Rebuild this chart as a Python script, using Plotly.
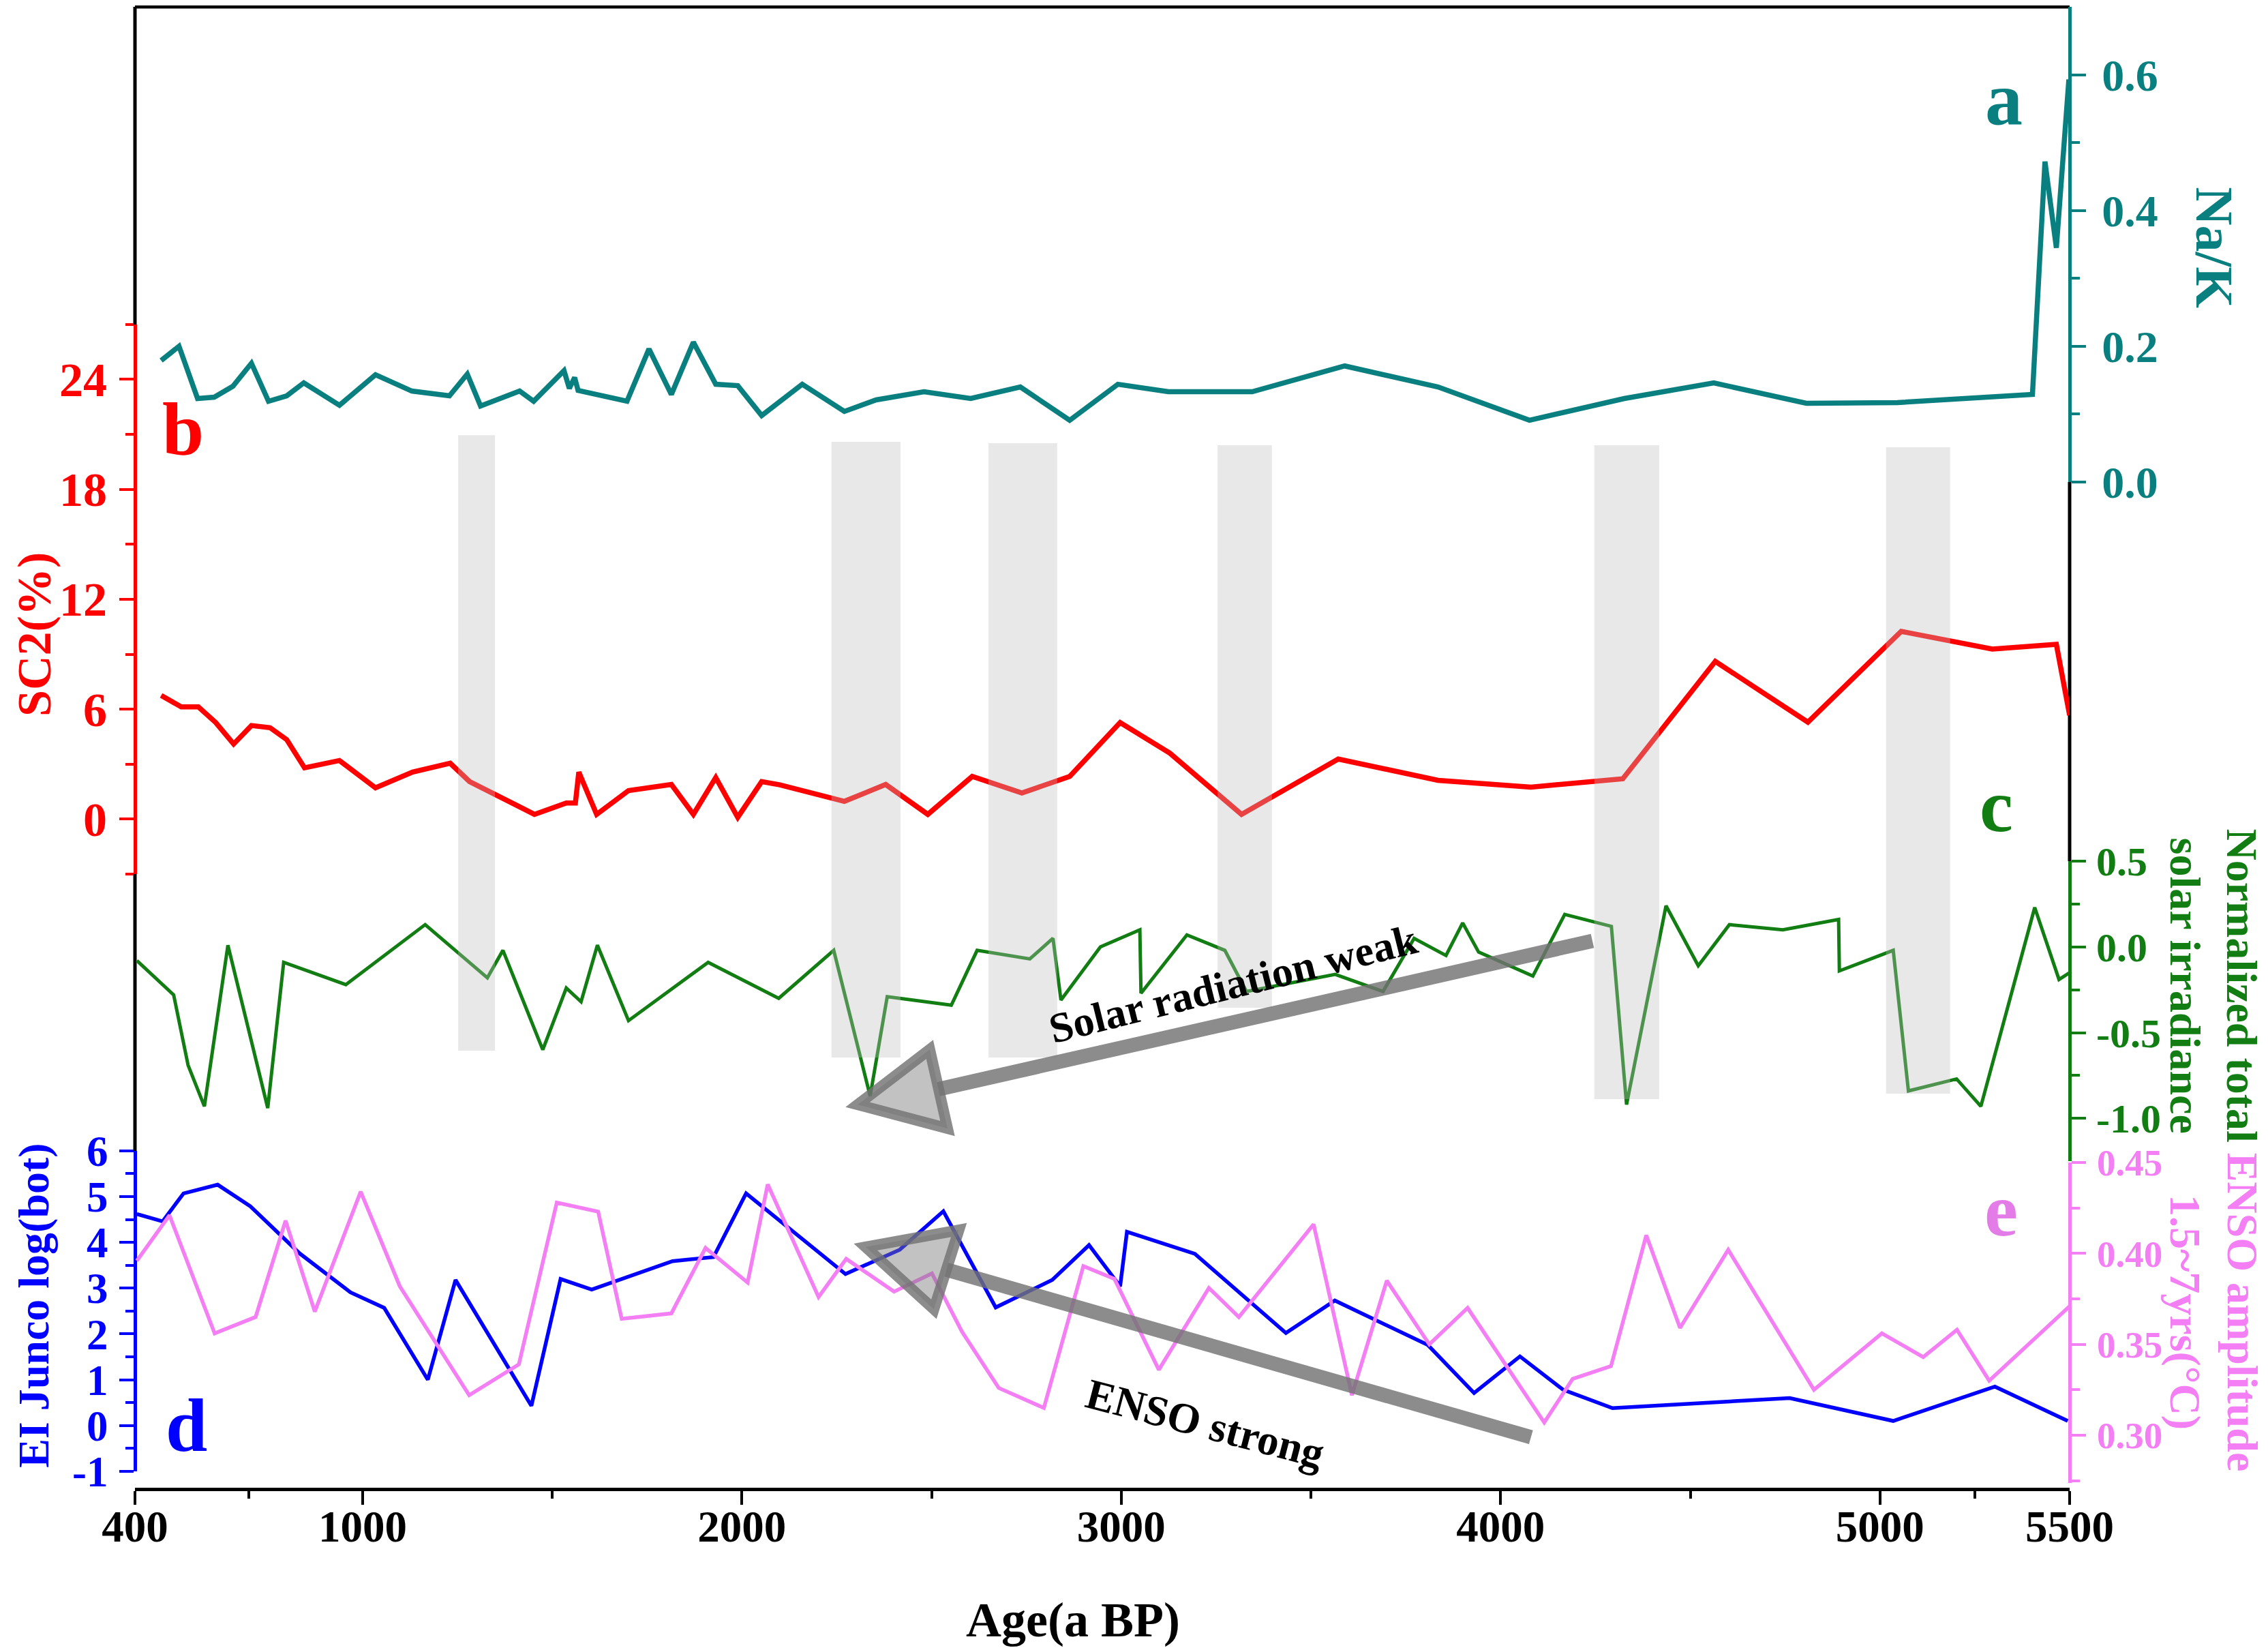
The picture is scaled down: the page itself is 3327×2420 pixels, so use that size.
import plotly.graph_objects as go

# ---- data (age in a BP) ----
# a: Na/K
nak_age = [469, 516, 565, 609, 658, 707, 752, 800, 845, 939, 1034, 1130, 1229, 1276, 1311, 1414, 1451,
           1531, 1545, 1559, 1568, 1697, 1755, 1814, 1872, 1931, 1989, 2052, 2159, 2270, 2354, 2480,
           2603, 2734, 2864, 2991, 3124, 3345, 3589, 3835, 4076, 4326, 4562, 4806, 5046, 5402, 5435,
           5465, 5498]
nak = [0.179, 0.200, 0.123, 0.125, 0.141, 0.175, 0.119, 0.127, 0.146, 0.113, 0.158, 0.134, 0.127,
       0.159, 0.112, 0.134, 0.119, 0.164, 0.138, 0.154, 0.135, 0.119, 0.196, 0.129, 0.206, 0.144,
       0.142, 0.098, 0.144, 0.104, 0.121, 0.133, 0.123, 0.140, 0.091, 0.144, 0.133, 0.133, 0.171,
       0.140, 0.091, 0.123, 0.146, 0.116, 0.117, 0.129, 0.472, 0.345, 0.593]

# b: SC2 (%)
sc2_age = [469, 522, 567, 613, 660, 707, 756, 800, 847, 939, 1034, 1132, 1231, 1282, 1453, 1537, 1561,
           1570, 1617, 1701, 1814, 1872, 1931, 1989, 2052, 2100, 2270, 2379, 2490, 2607, 2738, 2864,
           2997, 3128, 3317, 3572, 3835, 4080, 4322, 4566, 4810, 5056, 5296, 5465, 5500]
sc2 = [6.75, 6.13, 6.13, 5.27, 4.10, 5.11, 4.99, 4.34, 2.80, 3.20, 1.71, 2.57, 3.05, 2.05, 0.26, 0.88,
       0.88, 2.57, 0.26, 1.56, 1.89, 0.26, 2.27, 0.10, 2.05, 1.87, 0.97, 1.89, 0.26, 2.33, 1.43, 2.33,
       5.27, 3.60, 0.26, 3.28, 2.12, 1.75, 2.20, 8.61, 5.29, 10.25, 9.28, 9.54, 5.67]

# c: normalized total solar irradiance
tsi_age = [405, 502, 540, 583, 645, 750, 792, 956, 1165, 1329, 1370, 1475, 1537, 1576, 1619, 1701,
           1911, 2097, 2242, 2338, 2383, 2552, 2620, 2759, 2820, 2841, 2945, 3049, 3052, 3173, 3273,
           3330, 3564, 3690, 3772, 3856, 3900, 3942, 4085, 4169, 4292, 4332, 4436, 4521, 4603, 4744,
           4891, 4893, 5035, 5075, 5202, 5266, 5408, 5472, 5500]
tsi = [-0.08, -0.28, -0.69, -0.93, 0.01, -0.94, -0.09, -0.22, 0.13, -0.18, -0.02, -0.60, -0.24, -0.32,
       0.01, -0.43, -0.09, -0.30, -0.02, -0.87, -0.29, -0.34, -0.02, -0.07, 0.05, -0.31, 0.00, 0.10,
       -0.27, 0.07, -0.02, -0.26, -0.16, -0.26, 0.05, -0.05, 0.14, -0.03, -0.17, 0.19, 0.12, -0.92,
       0.24, -0.11, 0.13, 0.10, 0.16, -0.14, -0.02, -0.84, -0.77, -0.93, 0.23, -0.19, -0.15]

# d: El Junco log(bot)
junco_age = [405, 473, 528, 618, 704, 834, 968, 1057, 1172, 1245, 1445, 1522, 1604, 1817, 1925, 2011,
             2273, 2416, 2531, 2669, 2818, 2915, 2997, 3015, 3194, 3434, 3563, 3808, 3930, 4051, 4165,
             4295, 4762, 5035, 5303, 5495]
junco = [4.62, 4.46, 5.07, 5.26, 4.79, 3.76, 2.91, 2.57, 1.00, 3.18, 0.43, 3.20, 2.97, 3.59, 3.68, 5.07,
         3.31, 3.84, 4.68, 2.58, 3.18, 3.94, 3.04, 4.23, 3.75, 2.02, 2.73, 1.76, 0.71, 1.51, 0.78, 0.38,
         0.60, 0.10, 0.85, 0.10]

# e: ENSO amplitude 1.5~7 yrs
enso_age = [405, 491, 610, 718, 797, 874, 995, 1098, 1281, 1412, 1512, 1621, 1683, 1814, 1904, 2015,
            2068, 2202, 2275, 2401, 2501, 2580, 2677, 2796, 2900, 2982, 3099, 3231, 3310, 3507, 3608,
            3700, 3812, 3913, 4115, 4190, 4291, 4384, 4473, 4600, 4826, 5005, 5114, 5203, 5288, 5500]
enso = [0.396, 0.421, 0.356, 0.365, 0.418, 0.368, 0.434, 0.382, 0.322, 0.339, 0.428, 0.423, 0.364,
        0.367, 0.403, 0.384, 0.438, 0.376, 0.397, 0.379, 0.389, 0.357, 0.326, 0.315, 0.393, 0.386,
        0.336, 0.381, 0.365, 0.416, 0.322, 0.385, 0.350, 0.370, 0.307, 0.331, 0.338, 0.410, 0.359,
        0.402, 0.325, 0.356, 0.343, 0.358, 0.330, 0.371]

# shaded intervals (start, end) in a BP
bands = [(1252, 1349), (2236, 2418), (2650, 2831), (3254, 3397), (4247, 4418), (5016, 5185)]
band_top = [0.711, 0.7065, 0.7056, 0.7042, 0.7042, 0.7029]
band_bottom = [0.2958, 0.2912, 0.2912, 0.3247, 0.2631, 0.2668]

TEAL = "#0A7F7F"
RED = "#FF0000"
GREEN = "#127D12"
BLUE = "#0000FF"
PINK = "#F47EF4"
FONT = "Liberation Serif"

fig = go.Figure()
fig.add_trace(go.Scatter(x=nak_age, y=nak, mode="lines", line=dict(color=TEAL, width=7.5), yaxis="y"))
fig.add_trace(go.Scatter(x=sc2_age, y=sc2, mode="lines", line=dict(color=RED, width=7.5), yaxis="y2"))
fig.add_trace(go.Scatter(x=tsi_age, y=tsi, mode="lines", line=dict(color=GREEN, width=5), yaxis="y3"))
fig.add_trace(go.Scatter(x=junco_age, y=junco, mode="lines", line=dict(color=BLUE, width=5.5), yaxis="y4"))
fig.add_trace(go.Scatter(x=enso_age, y=enso, mode="lines", line=dict(color=PINK, width=5.5), yaxis="y5"))


def yaxis(color, domain, rng, side, tickvals, ticktext, minor, size, standoff=4):
    ax = dict(domain=domain, range=rng, side=side, anchor="free",
              position=0 if side == "left" else 1, automargin=False,
              showline=True, linecolor=color, linewidth=5,
              ticks="outside", ticklen=21, tickwidth=4, tickcolor=color,
              tickvals=tickvals, ticktext=ticktext, ticklabelstandoff=standoff,
              tickfont=dict(family=FONT, size=size, color=color, weight="bold"),
              showgrid=False, zeroline=False, fixedrange=True)
    if minor:
        ax["minor"] = dict(tickvals=minor, ticks="outside", ticklen=12, tickwidth=4, tickcolor=color)
    return ax


# the page body keeps its default 8 px margin, so the figure is 8 px smaller than the window
fig.update_layout(
    template="none",
    width=3319, height=2412,
    margin=dict(l=190, r=291, t=2, b=236, autoexpand=False),
    paper_bgcolor="white", plot_bgcolor="rgba(0,0,0,0)",
    showlegend=False,
    xaxis=dict(domain=[0, 1], range=[400, 5500], anchor="free", position=0, automargin=False,
               showline=True, linecolor="black", linewidth=5,
               ticks="outside", ticklen=20, tickwidth=4, tickcolor="black",
               tickvals=[400, 1000, 2000, 3000, 4000, 5000, 5500], ticklabelstandoff=-24,
               minor=dict(tickvals=[700, 1500, 2500, 3500, 4500, 5250], ticks="outside",
                          ticklen=11, tickwidth=4, tickcolor="black"),
               tickfont=dict(family=FONT, size=65, color="black", weight="bold"),
               showgrid=False, zeroline=False),
    yaxis=yaxis(TEAL, [0.6794, 1.0], [0, 0.7], "right", [0, 0.2, 0.4, 0.6],
                ["0.0", "0.2", "0.4", "0.6"], [0.1, 0.3, 0.5], 66, 10),
    yaxis2=yaxis(RED, [0.4149, 0.7857], [-3, 27], "left", [0, 6, 12, 18, 24],
                 ["0", "6", "12", "18", "24"], [-3, 3, 9, 15, 21, 27], 70),
    yaxis3=yaxis(GREEN, [0.2212, 0.4236], [-1.25, 0.5], "right", [-1.0, -0.5, 0.0, 0.5],
                 ["-1.0", "-0.5", "0.0", "0.5"], [-0.75, -0.25, 0.25], 60, 3),
    yaxis4=yaxis(BLUE, [0.012, 0.2282], [-1, 6], "left", [-1, 0, 1, 2, 3, 4, 5, 6],
                 ["-1", "0", "1", "2", "3", "4", "5", "6"],
                 [-0.5, 0.5, 1.5, 2.5, 3.5, 4.5, 5.5], 63),
    yaxis5=yaxis(PINK, [0.0041, 0.2203], [0.2737, 0.45], "right", [0.30, 0.35, 0.40, 0.45],
                 ["0.30", "0.35", "0.40", "0.45"], [0.275, 0.325, 0.375, 0.425], 55, 5),
)

# frame pieces in black where no coloured axis sits
frame = [(0, 1, 1, 1), (0, 0, 0.7857, 1.0), (0, 0, 0.2282, 0.4149), (1, 1, 0.4236, 0.6794)]
for x0, x1, y0, y1 in frame:
    fig.add_shape(type="line", xref="paper", yref="paper", x0=x0, x1=x1, y0=y0, y1=y1,
                  line=dict(color="black", width=5), layer="below")

# shaded intervals
for (s, e), top, bot in zip(bands, band_top, band_bottom):
    fig.add_shape(type="rect", xref="x", yref="paper", x0=s, x1=e, y0=bot, y1=top,
                  fillcolor="rgba(190,190,190,0.35)", line=dict(width=0), layer="above")

# trend arrows
ARROW = "rgba(115,115,115,0.82)"
HEAD_FILL = "rgba(120,120,120,0.45)"
arrows = [
    # yref, tail, base middle, tip, base corner 1, base corner 2
    ("y3", (4242, 0.035), (2518, -0.83), (2305, -0.92), (2495, -0.598), (2542, -1.059)),
    ("y4", (4080, -0.256), (2539, 3.405), (2326, 3.90), (2572, 4.27), (2506, 2.54)),
]
for yref, tail, base, tip, c1, c2 in arrows:
    fig.add_shape(type="line", xref="x", yref=yref, x0=tail[0], y0=tail[1], x1=base[0], y1=base[1],
                  line=dict(color=ARROW, width=21))
    fig.add_shape(type="path", xref="x", yref=yref,
                  path=f"M {tip[0]},{tip[1]} L {c1[0]},{c1[1]} L {c2[0]},{c2[1]} Z",
                  fillcolor=HEAD_FILL, line=dict(color=ARROW, width=16))

fig.add_annotation(x=3295, y=-0.215, xref="x", yref="y3", text="Solar radiation weak",
                   textangle=-14, showarrow=False, xanchor="center", yanchor="middle",
                   font=dict(family=FONT, size=62, color="black", weight="bold"))
fig.add_annotation(x=3221, y=0.04, xref="x", yref="y4", text="ENSO strong",
                   textangle=14.7, showarrow=False, xanchor="center", yanchor="middle",
                   font=dict(family=FONT, size=63, color="black", weight="bold"))

# axis titles
titles = [
    ("Na/K", 1.0750, 0.8376, 90, TEAL, 78),
    ("SC2(%)", -0.0522, 0.5768, -90, RED, 70),
    ("EI Junco log(bot)", -0.0522, 0.1242, -90, BLUE, 64),
    ("Normalized total<br>solar irradiance", 1.0745, 0.3395, 90, GREEN, 64),
    ("ENSO amplitude<br>1.5~7yrs(°C)", 1.0745, 0.1191, 90, PINK, 64),
    ("Age(a BP)", 0.485, -0.0883, 0, "black", 72),
]
for text, x, y, ang, col, size in titles:
    fig.add_annotation(x=x, y=y, xref="paper", yref="paper", text=text, textangle=ang,
                       showarrow=False, xanchor="center", yanchor="middle",
                       font=dict(family=FONT, size=size, color=col, weight="bold"))

# panel letters
letters = [("a", 0.966, 0.938, TEAL), ("b", 0.025, 0.715, RED), ("c", 0.962, 0.461, GREEN),
           ("d", 0.0265, 0.043, BLUE), ("e", 0.9645, 0.188, "#E47CE8")]
for text, x, y, col in letters:
    fig.add_annotation(x=x, y=y, xref="paper", yref="paper", text=text, showarrow=False,
                       xanchor="center", yanchor="middle",
                       font=dict(family=FONT, size=110, color=col, weight="bold"))

fig.write_html("out.html")
